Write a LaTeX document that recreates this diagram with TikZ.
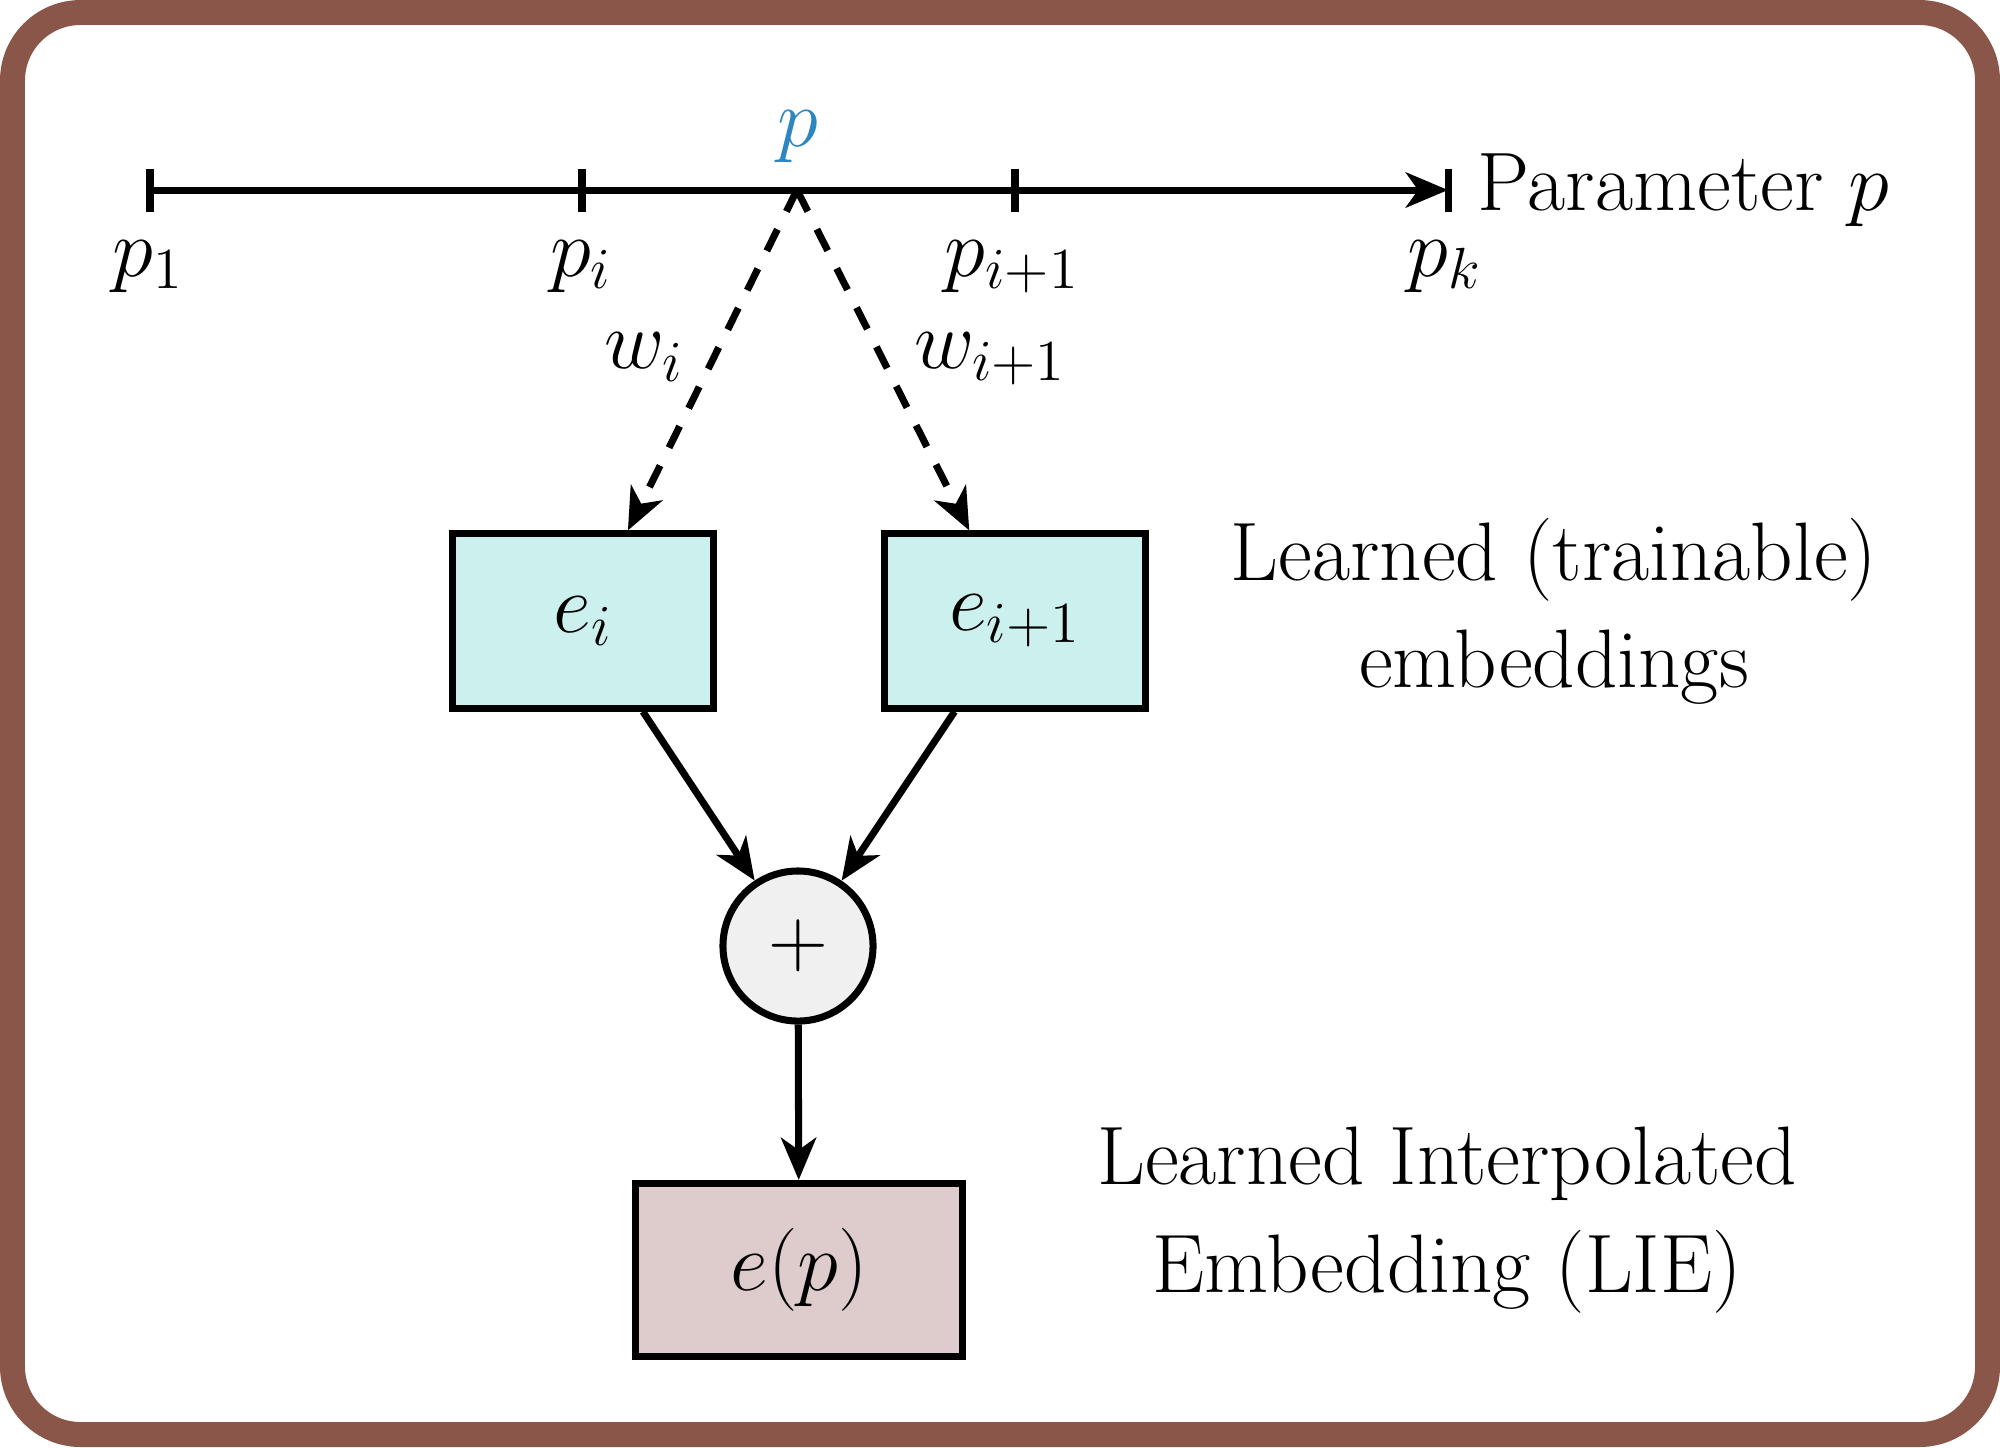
\RequirePackage{fix-cm}
\documentclass[tikz,border=0pt]{standalone}
\usepackage{fontspec}
\usetikzlibrary{arrows.meta}
\definecolor{framecol}{RGB}{139,86,74}
\definecolor{pblue}{RGB}{46,134,193}
\definecolor{embfill}{RGB}{204,240,238}
\definecolor{liefill}{RGB}{221,204,203}
\definecolor{sumfill}{RGB}{240,240,240}
\begin{document}
\begin{tikzpicture}[x=0.01cm,y=-0.01cm,
  lbl/.style={font=\fontsize{23.6}{30.5}\selectfont, inner sep=0pt},
  axisline/.style={line width=2pt},
  tickmark/.style={line width=2pt},
  embbox/.style={lbl, draw, line width=2pt, minimum width=2.6cm, minimum height=1.74cm},
  tip/.style={-{Stealth[length=12pt,width=10pt,inset=3.5pt]}},
  arr/.style={line width=2pt, tip},
  dasharr/.style={arr, dash pattern=on 6.8pt off 5.7pt}]
\useasboundingbox (0,0) rectangle (2000,1447);
\draw[framecol, line width=7.1pt, rounded corners=0.68cm] (12.5,12.5) rectangle (1987.5,1434.5);

% axis
\coordinate (t1) at (150,190);
\coordinate (ti) at (582,190);
\coordinate (pp) at (797,190);
\coordinate (ti1) at (1015,190);
\coordinate (tk) at (1448,190);
\draw[axisline, tip] (t1) -- (tk);
\foreach \c in {t1,ti,ti1,tk}
  \draw[tickmark] (\c) ++(0,-21.5) -- ++(0,43);
\node[lbl, anchor=base] (lp1) at (148,276) {$p_1$};
\node[lbl, anchor=base] (lpi) at (581,276) {$p_i$};
\node[lbl, anchor=base] (lpi1) at (1012,276) {$p_{i+1}$};
\node[lbl, anchor=base] (lpk) at (1445,276) {$p_k$};
\node[lbl, anchor=west] (param) at (1477,190) {Parameter $p$};
\node[lbl, text=pblue] (pl) at (798,137) {$p$};

% embeddings
\node[embbox, fill=embfill] (ei) at (583,621) {$e_i$};
\node[embbox, fill=embfill] (ei1) at (1015,621) {$e_{i+1}$};
\draw[dasharr] (pp) -- (ei);
\draw[dasharr] (pp) -- (ei1);
\node[lbl] (wi) at (644,357) {$w_i$};
\node[lbl] (wi1) at (990,359) {$w_{i+1}$};
\node[lbl, align=center] (learned) at (1554,611) {Learned (trainable)\\embeddings};

% sum
\node[lbl, draw, circle, line width=2pt, fill=sumfill, minimum size=1.5cm] (sum) at (798,946) {$+$};
\draw[arr] (ei) -- (sum);
\draw[arr] (ei1) -- (sum);

% output
\node[embbox, fill=liefill, minimum width=3.26cm, minimum height=1.73cm] (ep) at (799,1270) {$e(p)$};
\draw[arr] (sum) -- (ep);
\node[lbl, align=center] (lie) at (1447,1220) {Learned Interpolated\\Embedding (LIE)};
\end{tikzpicture}
\end{document}
